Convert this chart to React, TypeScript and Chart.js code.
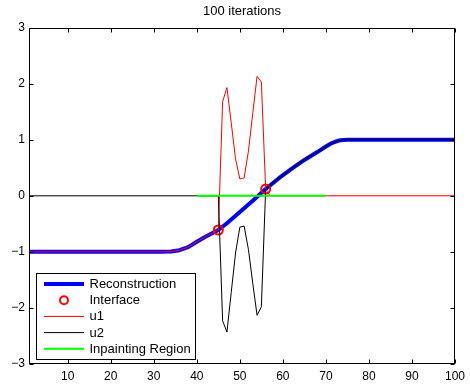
import React, { useEffect, useRef } from "react";
import { Chart, registerables } from "chart.js";

Chart.register(...registerables);

// ---- data ----
const titleText = "100 iterations";
const xTickValues = [10, 20, 30, 40, 50, 60, 70, 80, 90, 100];
const yTickValues = [-3, -2, -1, 0, 1, 2, 3];
const seriesNames = ["Reconstruction", "Interface", "u1", "u2", "Inpainting Region"];

const reconX = [1, 32, 34, 36, 38, 40, 42, 44, 45, 47, 50, 53, 56, 59, 62, 65, 68, 70, 71, 72, 73, 74, 75, 100];
const reconY = [-1, -1, -0.995, -0.97, -0.915, -0.82, -0.73, -0.65, -0.61, -0.49, -0.29, -0.09, 0.12, 0.31, 0.48, 0.64, 0.78, 0.88, 0.925, 0.96, 0.985, 0.997, 1, 1];

const interfaceX = [45, 56];
const interfaceY = [-0.61, 0.12];

const u1SpikeX = [46, 47, 48, 49, 50, 51, 52, 53, 54, 55, 56];
const u1SpikeY = [1.68, 1.93, 1.3, 0.66, 0.3, 0.32, 0.8, 1.47, 2.13, 2.03, 0.12];
const u1TailX = [57, 100];
const u1TailY = [0, 0];

const u2HeadX = [1, 45];
const u2HeadY = [0, 0];
const u2SpikeX = [46, 47, 48, 49, 50, 51, 52, 53, 54, 55];
const u2SpikeY = [-2.23, -2.43, -1.72, -1.02, -0.56, -0.54, -0.96, -1.56, -2.13, -1.98];

const inpaintX = [40, 70];
const inpaintY = [0, 0];

// ---- helpers ----
const zip = (xs: number[], ys: number[]) => xs.map((x, i) => ({ x, y: ys[i] }));
const reconPts = zip(reconX, reconY);
const u1Pts = [
  ...reconPts.filter((p) => p.x <= interfaceX[0]),
  ...zip(u1SpikeX, u1SpikeY),
  ...zip(u1TailX, u1TailY),
];
const u2Pts = [
  ...zip(u2HeadX, u2HeadY),
  ...zip(u2SpikeX, u2SpikeY),
  ...reconPts.filter((p) => p.x >= interfaceX[1]),
];

const FONT = '"Liberation Sans", Arial, Helvetica, sans-serif';
const BLUE = "#0000ff";
const RED = "#ff0000";
const BLACK = "#000000";
const GREEN = "#00ff00";

const framePlugin = {
  id: "matlabFrame",
  afterDraw(chart: any) {
    const { ctx, chartArea, scales } = chart;
    const l = Math.round(chartArea.left) + 0.5;
    const r = Math.round(chartArea.right) - 0.5;
    const t = Math.round(chartArea.top) + 0.5;
    const b = Math.round(chartArea.bottom) - 0.5;
    ctx.save();
    ctx.strokeStyle = BLACK;
    ctx.lineWidth = 1;
    ctx.strokeRect(l, t, r - l, b - t);
    const tl = 4;
    ctx.beginPath();
    xTickValues.forEach((v) => {
      const px = Math.round(scales.x.getPixelForValue(v)) + 0.5;
      ctx.moveTo(px, b);
      ctx.lineTo(px, b - tl);
      ctx.moveTo(px, t);
      ctx.lineTo(px, t + tl);
    });
    yTickValues.forEach((v) => {
      const py = Math.round(scales.y.getPixelForValue(v)) + 0.5;
      ctx.moveTo(l, py);
      ctx.lineTo(l + tl, py);
      ctx.moveTo(r, py);
      ctx.lineTo(r - tl, py);
    });
    ctx.stroke();

    // inset legend
    const bx = Math.round(chartArea.left + 6.5) + 0.5;
    const by = Math.round(chartArea.bottom - 91) + 0.5;
    const bw = 159;
    const bh = 86;
    ctx.fillStyle = "#ffffff";
    ctx.fillRect(bx, by, bw, bh);
    ctx.strokeStyle = BLACK;
    ctx.lineWidth = 1;
    ctx.strokeRect(bx, by, bw, bh);
    ctx.font = `13px ${FONT}`;
    ctx.textBaseline = "middle";
    ctx.textAlign = "left";
    const styles = [
      { color: BLUE, width: 4, marker: false },
      { color: RED, width: 2, marker: true },
      { color: RED, width: 1, marker: false },
      { color: BLACK, width: 1, marker: false },
      { color: GREEN, width: 2, marker: false },
    ];
    seriesNames.forEach((name, i) => {
      const ry = by + 10.5 + i * 16.2;
      const s = styles[i];
      ctx.strokeStyle = s.color;
      ctx.lineWidth = s.width;
      ctx.beginPath();
      if (s.marker) {
        ctx.arc(bx + 27.5, ry, 4, 0, Math.PI * 2);
      } else {
        ctx.moveTo(bx + 7.5, ry);
        ctx.lineTo(bx + 47.5, ry);
      }
      ctx.stroke();
      ctx.fillStyle = BLACK;
      ctx.fillText(name, bx + 53, ry + 0.5);
    });
    ctx.restore();
  },
};

export default function App() {
  const ref = useRef<HTMLCanvasElement | null>(null);
  useEffect(() => {
    if (!ref.current) return;
    const chart = new Chart(ref.current, {
      type: "line",
      data: {
        datasets: [
          {
            label: seriesNames[4],
            data: zip(inpaintX, inpaintY),
            borderColor: GREEN,
            borderWidth: 2,
            pointRadius: 0,
            tension: 0,
          },
          {
            label: seriesNames[3],
            data: u2Pts,
            borderColor: BLACK,
            borderWidth: 1,
            pointRadius: 0,
            tension: 0,
          },
          {
            label: seriesNames[2],
            data: u1Pts,
            borderColor: RED,
            borderWidth: 1,
            pointRadius: 0,
            tension: 0,
          },
          {
            label: seriesNames[1],
            data: zip(interfaceX, interfaceY),
            showLine: false,
            borderColor: RED,
            backgroundColor: "rgba(0,0,0,0)",
            pointRadius: 4.5,
            pointBorderWidth: 2,
            pointBorderColor: RED,
            pointBackgroundColor: "rgba(0,0,0,0)",
          },
          {
            label: seriesNames[0],
            data: reconPts,
            borderColor: BLUE,
            borderWidth: 4,
            pointRadius: 0,
            tension: 0,
            borderJoinStyle: "round",
          },
        ],
      },
      options: {
        animation: false,
        responsive: false,
        devicePixelRatio: 1,
        layout: { padding: { left: 0, right: 11.7, top: 0, bottom: 0 } },
        plugins: {
          legend: { display: false },
          tooltip: { enabled: false },
          title: {
            display: true,
            text: titleText,
            color: BLACK,
            fullSize: false,
            font: { family: FONT, size: 13, weight: "normal" },
            padding: { top: 4, bottom: 8 },
          },
        },
        scales: {
          x: {
            type: "linear",
            min: 1,
            max: 100,
            grid: { display: false, drawTicks: false },
            border: { display: false },
            ticks: {
              color: BLACK,
              font: { family: FONT, size: 12 },
              padding: 5,
              autoSkip: false,
              maxRotation: 0,
            },
            afterBuildTicks: (scale: any) => {
              scale.ticks = xTickValues.map((v) => ({ value: v }));
            },
            afterFit: (scale: any) => {
              scale.height = 22;
            },
          },
          y: {
            type: "linear",
            min: -3,
            max: 3,
            grid: { display: false, drawTicks: false },
            border: { display: false },
            ticks: {
              color: BLACK,
              font: { family: FONT, size: 12 },
              padding: 4,
              callback: (v: any) => (Number(v) < 0 ? "\u2212" + Math.abs(Number(v)) : String(v)),
            },
            afterBuildTicks: (scale: any) => {
              scale.ticks = yTickValues.map((v) => ({ value: v }));
            },
            afterFit: (scale: any) => {
              scale.width = 29;
            },
          },
        },
      },
      plugins: [framePlugin],
    } as any);
    return () => chart.destroy();
  }, []);
  return (
    <div style={{ position: "fixed", left: 0, top: 0, width: 470, height: 386, background: "#fff" }}>
      <canvas ref={ref} width={470} height={386} style={{ display: "block" }} />
    </div>
  );
}
